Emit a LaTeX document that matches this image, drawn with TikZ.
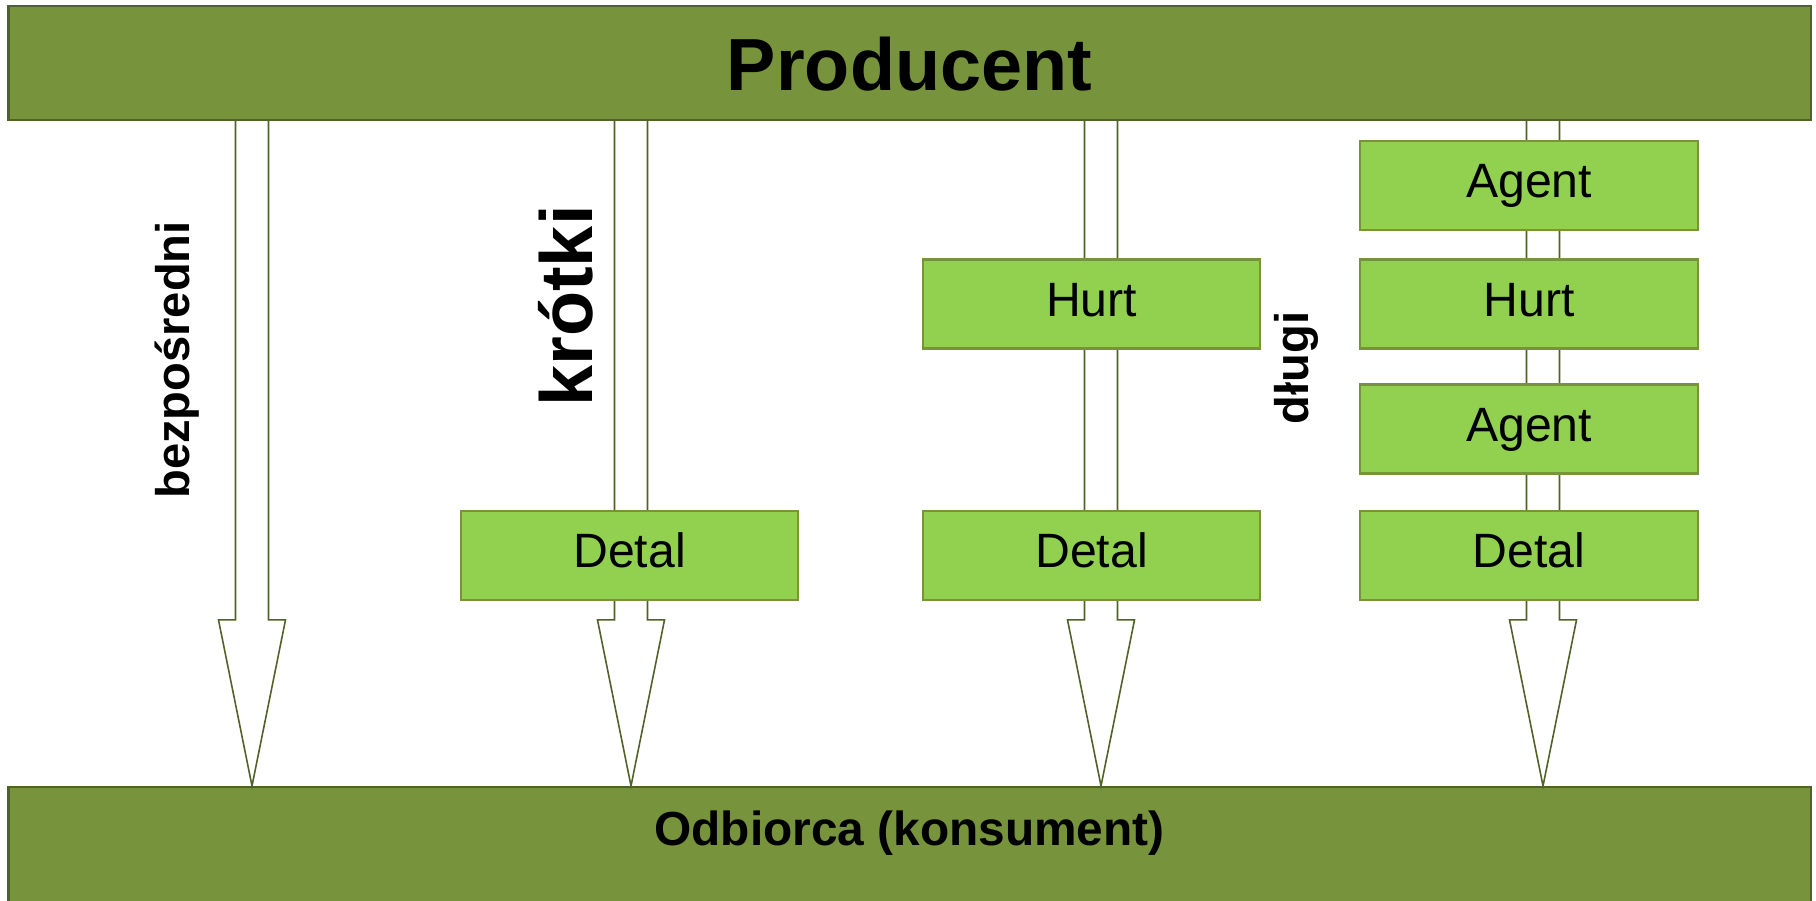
\documentclass[tikz,border=0pt]{standalone}
\usepackage{fontspec}
\setmainfont{Liberation Sans}
\usepackage{xcolor}
\usepackage{tikz}
\usetikzlibrary{calc}

\definecolor{oliwka}{HTML}{77933C}
\definecolor{oliwkaciemna}{HTML}{4F6228}
\definecolor{zielen}{HTML}{92D050}

\begin{document}
\begin{tikzpicture}[x=0.01cm,y=-0.01cm,
  pasek/.style={draw=oliwkaciemna,line width=0.6pt,fill=oliwka,inner sep=0pt,minimum width=18.01cm},
  ogniwo/.style={draw=oliwka,line width=0.6pt,fill=zielen,inner sep=0pt,minimum width=3.37cm,minimum height=0.89cm,
    font=\fontsize{13.7}{16}\selectfont,text height=0.34cm,text depth=0.10cm},
  kanal/.style={draw=oliwkaciemna,line width=0.45pt,fill=white,line join=miter},
  opis/.style={font=\fontsize{13.4}{16}\selectfont\bfseries,rotate=90,anchor=base,inner sep=0pt}]
\useasboundingbox (0,0) rectangle (1816,900);
\node[pasek,minimum height=1.14cm,font=\fontsize{21}{24}\selectfont\bfseries,text height=0.54cm,text depth=0cm]
  (prod) at (909.5,63) {Producent};
\node[pasek,minimum height=1.18cm] (odb) at (909.5,846) {};
\node[font=\fontsize{13.6}{16}\selectfont\bfseries,inner sep=0pt,text height=0.36cm,text depth=0cm]
  (odbtxt) at (909.5,827) {Odbiorca (konsument)};
\coordinate (k1) at (252,0);
\coordinate (k2) at (631,0);
\coordinate (k3) at (1101,0);
\coordinate (k4) at (1543,0);
\foreach \k in {1,2,3,4}
  \draw[kanal] ($(prod.south -| k\k)+(-16.5,0)$) -- ($(odb.north -| k\k)+(-16.5,-166)$) -- ++(-17,0)
    -- (odb.north -| k\k) -- ++(33.5,-166) -- ++(-17,0) -- ($(prod.south -| k\k)+(16.5,0)$);
\node[ogniwo] (detal2) at (629.5,555.5) {Detal};
\node[ogniwo] (hurt3) at (1091.5,304) {Hurt};
\node[ogniwo] (detal3) at (1091.5,555.5) {Detal};
\node[ogniwo] (agent4a) at (1529,185.5) {Agent};
\node[ogniwo] (hurt4) at (1529,304) {Hurt};
\node[ogniwo] (agent4b) at (1529,429) {Agent};
\node[ogniwo] (detal4) at (1529,555.5) {Detal};
\node[opis] (bezp) at (189,360) {bezpośredni};
\node[opis,font=\fontsize{21}{24}\selectfont\bfseries] (krot) at (592,306) {krótki};
\node[opis] (dlug) at (1308,368) {długi};
\end{tikzpicture}
\end{document}
